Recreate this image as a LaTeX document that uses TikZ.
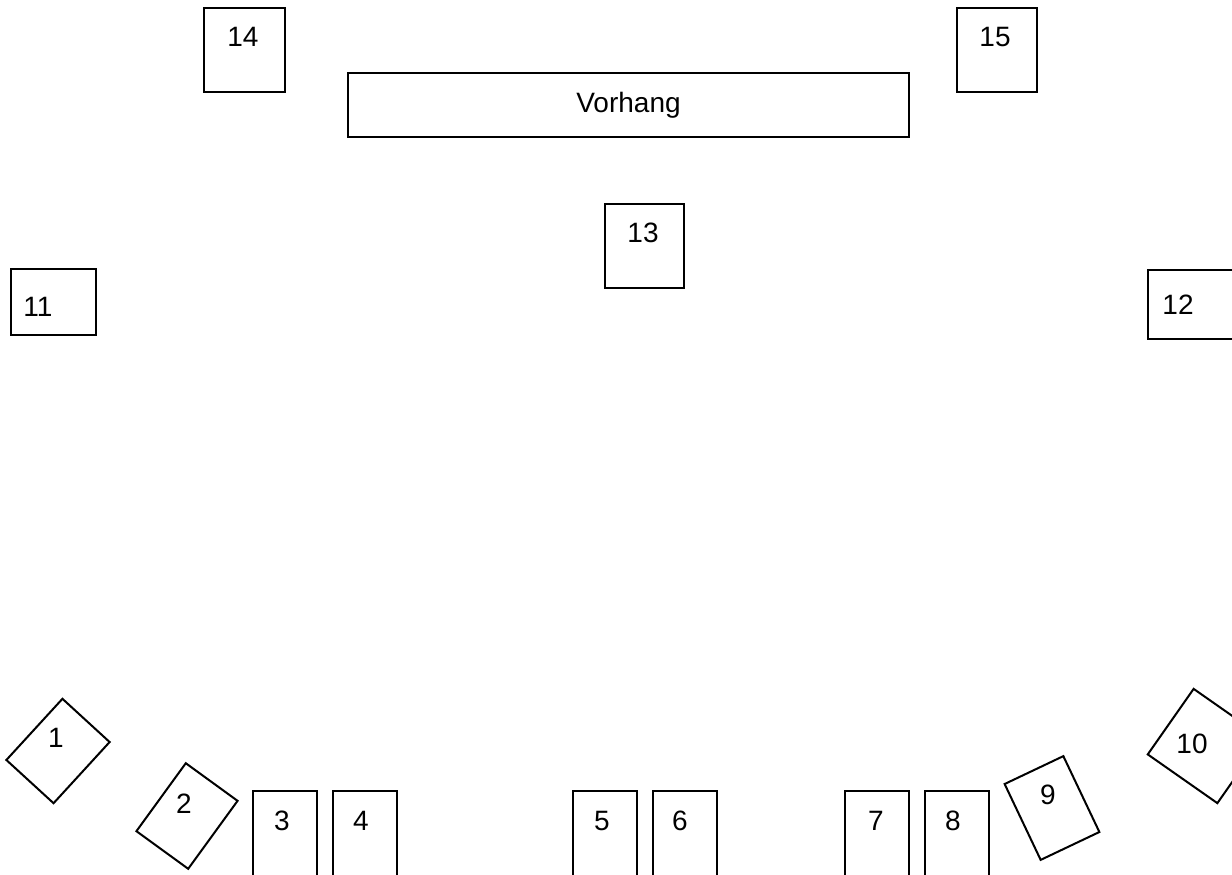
\documentclass[tikz,border=0pt]{standalone}
\usepackage{fontspec}
\setmainfont{Liberation Sans}

\begin{document}
\begin{tikzpicture}[x=0.5pt, y=-0.5pt, line width=1pt,
  seat/.style 2 args={draw, inner sep=0pt, minimum width=#1*0.5pt, minimum height=#2*0.5pt},
  nr/.style={font=\fontsize{14}{16}\selectfont, inner sep=0pt}]
  \useasboundingbox (0,0) rectangle (1232,874);
  \clip (0,0) rectangle (1232,874);

  % Vorhang
  \node[seat={561}{64}, nr] (vorhang) at (628.5,105) {Vorhang};

  % oben
  \node[seat={81}{84}] (s14) at (244.5,50) {};
  \node[nr] (n14) at (243,37) {14};
  \node[seat={80}{84}] (s15) at (997,50) {};
  \node[nr] (n15) at (995,37) {15};
  \node[seat={79}{84}] (s13) at (644.5,246) {};
  \node[nr] (n13) at (643,233) {13};

  % Seiten
  \node[seat={85}{66}] (s11) at (53.5,302) {};
  \node[nr] (n11) at (38,307) {11};
  \node[seat={90}{69}] (s12) at (1193,304.5) {};
  \node[nr] (n12) at (1178,305) {12};

  % vorne, gerade
  \foreach \n/\x/\t in {3/285/282, 4/365/361, 5/605/602, 6/685/680, 7/876.5/876, 8/957/953} {
    \node[seat={64}{90}] (s\n) at (\x,836) {};
    \node[nr] (n\n) at (\t,821) {\n};
  }

  % vorne, gedreht
  \node[seat={64}{83}, rotate=-42.5] (s1) at (58,751) {};
  \node[nr] (n1) at (56,738) {1};
  \node[seat={64}{84}, rotate=-36] (s2) at (187,816) {};
  \node[nr] (n2) at (184,804) {2};
  \node[seat={65}{84}, rotate=25.4] (s9) at (1052,808) {};
  \node[nr] (n9) at (1048,795) {9};
  \node[seat={85}{80}, rotate=-35] (s10) at (1205.5,746) {};
  \node[nr] (n10) at (1192,744) {10};
\end{tikzpicture}
\end{document}
